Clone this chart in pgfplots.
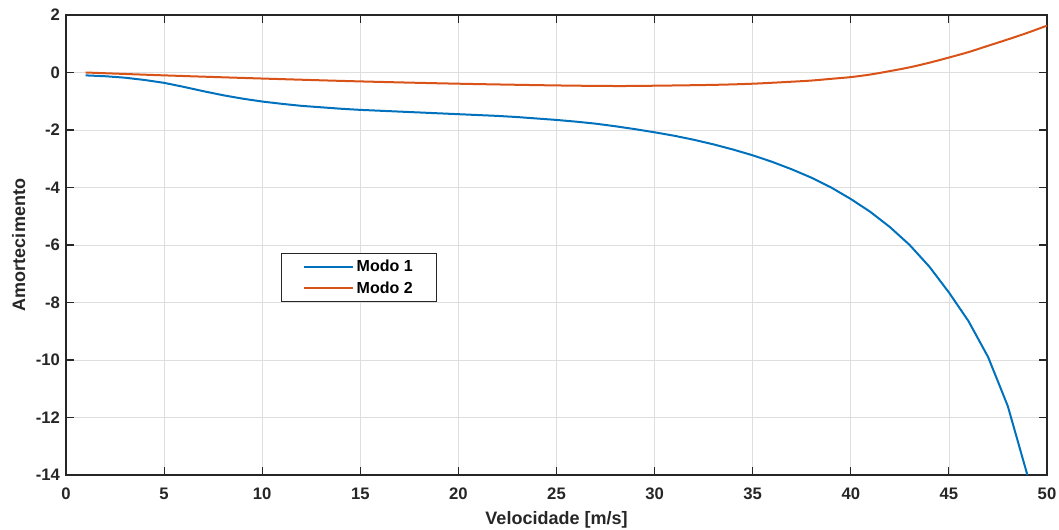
\documentclass[border=0pt]{standalone}
\usepackage{fontspec}
\setmainfont{Liberation Sans}
\usepackage{pgfplots}
\pgfplotsset{compat=1.18}
\definecolor{mblue}{rgb}{0,0.447,0.741}
\definecolor{morange}{rgb}{0.85,0.325,0.098}
\definecolor{axgray}{rgb}{0.15,0.15,0.15}
\begin{document}
\begin{tikzpicture}
\begin{axis}[
  scale only axis,
  width=735.75pt, height=345pt,
  xmin=0, xmax=50, ymin=-14, ymax=2,
  xtick={0,5,...,50}, ytick={-14,-12,...,2},
  grid=major,
  major grid style={line width=0.5pt, draw=black!13},
  axis line style={line width=0.8pt, draw=axgray},
  tick style={line width=0.8pt, draw=axgray},
  tick align=inside,
  major tick length=6pt,
  /pgf/number format/assume math mode=true,
  ticklabel style={font=\fontsize{12.5}{14}\selectfont\bfseries, text=axgray},
  xticklabel style={yshift=-6pt},
  yticklabel style={xshift=-1pt},
  xlabel={Velocidade [m/s]},
  ylabel={Amortecimento},
  label style={font=\fontsize{13.5}{15}\selectfont\bfseries, text=axgray},
  xlabel style={yshift=-2pt},
  ylabel style={yshift=1pt},
  legend style={at={(0.219,0.483)}, anchor=north west,
    font=\fontsize{12}{14}\selectfont\bfseries, draw=axgray, line width=0.8pt,
    inner xsep=16pt, inner ysep=3pt, row sep=2pt,
    nodes={inner xsep=2pt, inner ysep=2pt}},
  legend cell align=left,
  legend image code/.code={\draw[#1, line width=1.5pt] (0pt,0pt) -- (37pt,0pt);},
]
\addplot[mblue, line width=1.5pt] coordinates {
(1,-0.10) (2,-0.13) (3,-0.18) (4,-0.26) (5,-0.36) (6,-0.50) (7,-0.65) (8,-0.79)
(9,-0.91) (10,-1.01) (11,-1.09) (12,-1.16) (13,-1.21) (14,-1.26) (15,-1.30)
(16,-1.33) (17,-1.36) (18,-1.39) (19,-1.42) (20,-1.45) (21,-1.48) (22,-1.51)
(23,-1.55) (24,-1.60) (25,-1.65) (26,-1.71) (27,-1.78) (28,-1.87) (29,-1.97)
(30,-2.08) (31,-2.20) (32,-2.34) (33,-2.50) (34,-2.68) (35,-2.88) (36,-3.11)
(37,-3.37) (38,-3.66) (39,-4.00) (40,-4.40) (41,-4.85) (42,-5.38) (43,-6.00)
(44,-6.75) (45,-7.65) (46,-8.65) (47,-9.90) (48,-11.6) (49,-14.0)
};
\addlegendentry{Modo 1\hspace{6pt}}
\addplot[morange, line width=1.5pt, smooth] coordinates {
(1,0.0) (5,-0.10) (10,-0.21) (15,-0.31) (20,-0.39) (25,-0.45) (28,-0.47)
(30,-0.46) (33,-0.43) (35,-0.39) (37,-0.32) (38,-0.28) (39,-0.22) (40,-0.16)
(41,-0.07) (42,0.05) (43,0.18) (44,0.34) (45,0.52) (46,0.71) (47,0.93)
(48,1.15) (49,1.38) (50,1.63)
};
\addlegendentry{Modo 2\hspace{6pt}}
\end{axis}
\pgfresetboundingbox
\path (current axis.south west) ++(-49.5pt,-40.5pt) coordinate (bl);
\path (current axis.north east) ++(9pt,11.25pt) coordinate (tr);
\path (bl) rectangle (tr);
\end{tikzpicture}
\end{document}
